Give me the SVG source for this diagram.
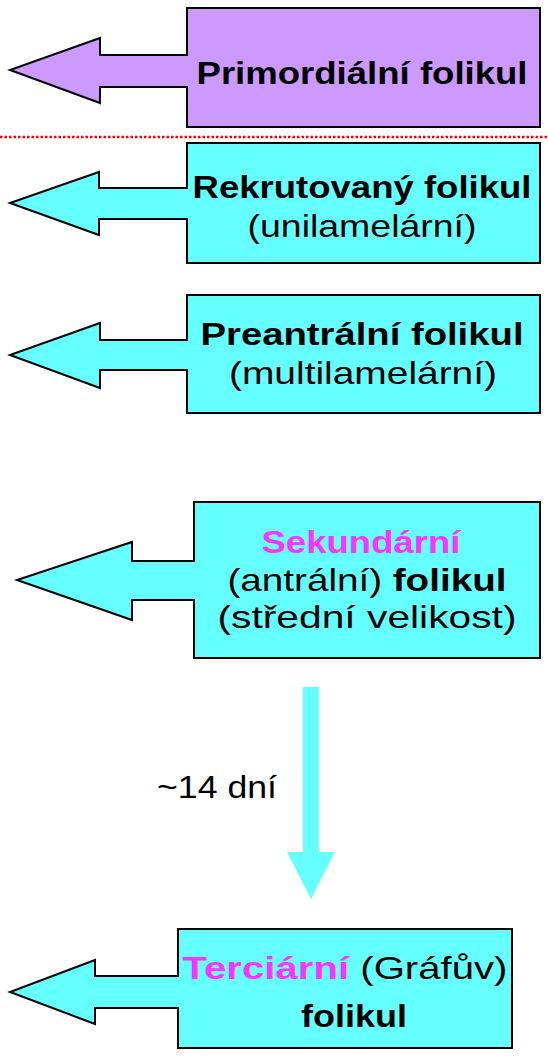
<svg xmlns="http://www.w3.org/2000/svg" width="548" height="1059" viewBox="0 0 548 1059">
<style>
.shape{stroke:#000;stroke-width:2;stroke-linejoin:miter}
.purple{fill:#CC99FF}
.cyan{fill:#66FFFF}
text{font-family:"Liberation Sans",Arial,sans-serif;font-size:32px;fill:#000;text-anchor:middle}
.b{font-weight:bold}
.m{fill:#FF33FF;font-weight:bold}
</style>
<rect width="548" height="1059" fill="#fff"/>
<line x1="0" y1="137" x2="548" y2="137" stroke="#FF0000" stroke-width="2.5" stroke-dasharray="2.5,2"/>
<g id="primordialni">
<path class="shape purple" d="M187,8 H540 V127 H187 V87 H100 V103 L10,70 L100,38 V55 H187 Z"/>
<text class="b" x="362" y="84" textLength="331" lengthAdjust="spacingAndGlyphs">Primordiální folikul</text>
</g>
<g id="rekrutovany">
<path class="shape cyan" d="M187,143 H540 V263 H187 V219 H99 V235 L10,203 L99,172 V188 H187 Z"/>
<text class="b" x="362" y="198" textLength="339" lengthAdjust="spacingAndGlyphs">Rekrutovaný folikul</text>
<text x="362" y="237" textLength="229" lengthAdjust="spacingAndGlyphs">(unilamelární)</text>
</g>
<g id="preantralni">
<path class="shape cyan" d="M187,295 H540 V413 H187 V370 H100 V388 L10,355 L100,323 V340 H187 Z"/>
<text class="b" x="362" y="345" textLength="323" lengthAdjust="spacingAndGlyphs">Preantrální folikul</text>
<text x="363" y="384" textLength="268" lengthAdjust="spacingAndGlyphs">(multilamelární)</text>
</g>
<g id="sekundarni">
<path class="shape cyan" d="M194,502 H540 V658 H194 V600 H132 V620 L17,580 L132,542 V561 H194 Z"/>
<text class="m" x="361" y="553" textLength="199" lengthAdjust="spacingAndGlyphs">Sekundární</text>
<text x="367" y="591" textLength="279" lengthAdjust="spacingAndGlyphs">(antrální) <tspan class="b">folikul</tspan></text>
<text x="367" y="628" textLength="299" lengthAdjust="spacingAndGlyphs">(střední velikost)</text>
</g>
<g id="terciarni">
<path class="shape cyan" d="M178,929 H512 V1048 H178 V1008 H95 V1024 L10,992 L95,960 V976 H178 Z"/>
<text x="345" y="979" textLength="325" lengthAdjust="spacingAndGlyphs"><tspan class="m">Terciární</tspan> (Gráfův)</text>
<text class="b" x="354" y="1027" textLength="106" lengthAdjust="spacingAndGlyphs">folikul</text>
</g>
<g id="connectors">
<path d="M303,687 H319 V852 H335 L311,899 L287,852 H303 Z" fill="#66FFFF"/>
<text x="217" y="798" textLength="120" lengthAdjust="spacingAndGlyphs">~14 dní</text>
</g>
</svg>
